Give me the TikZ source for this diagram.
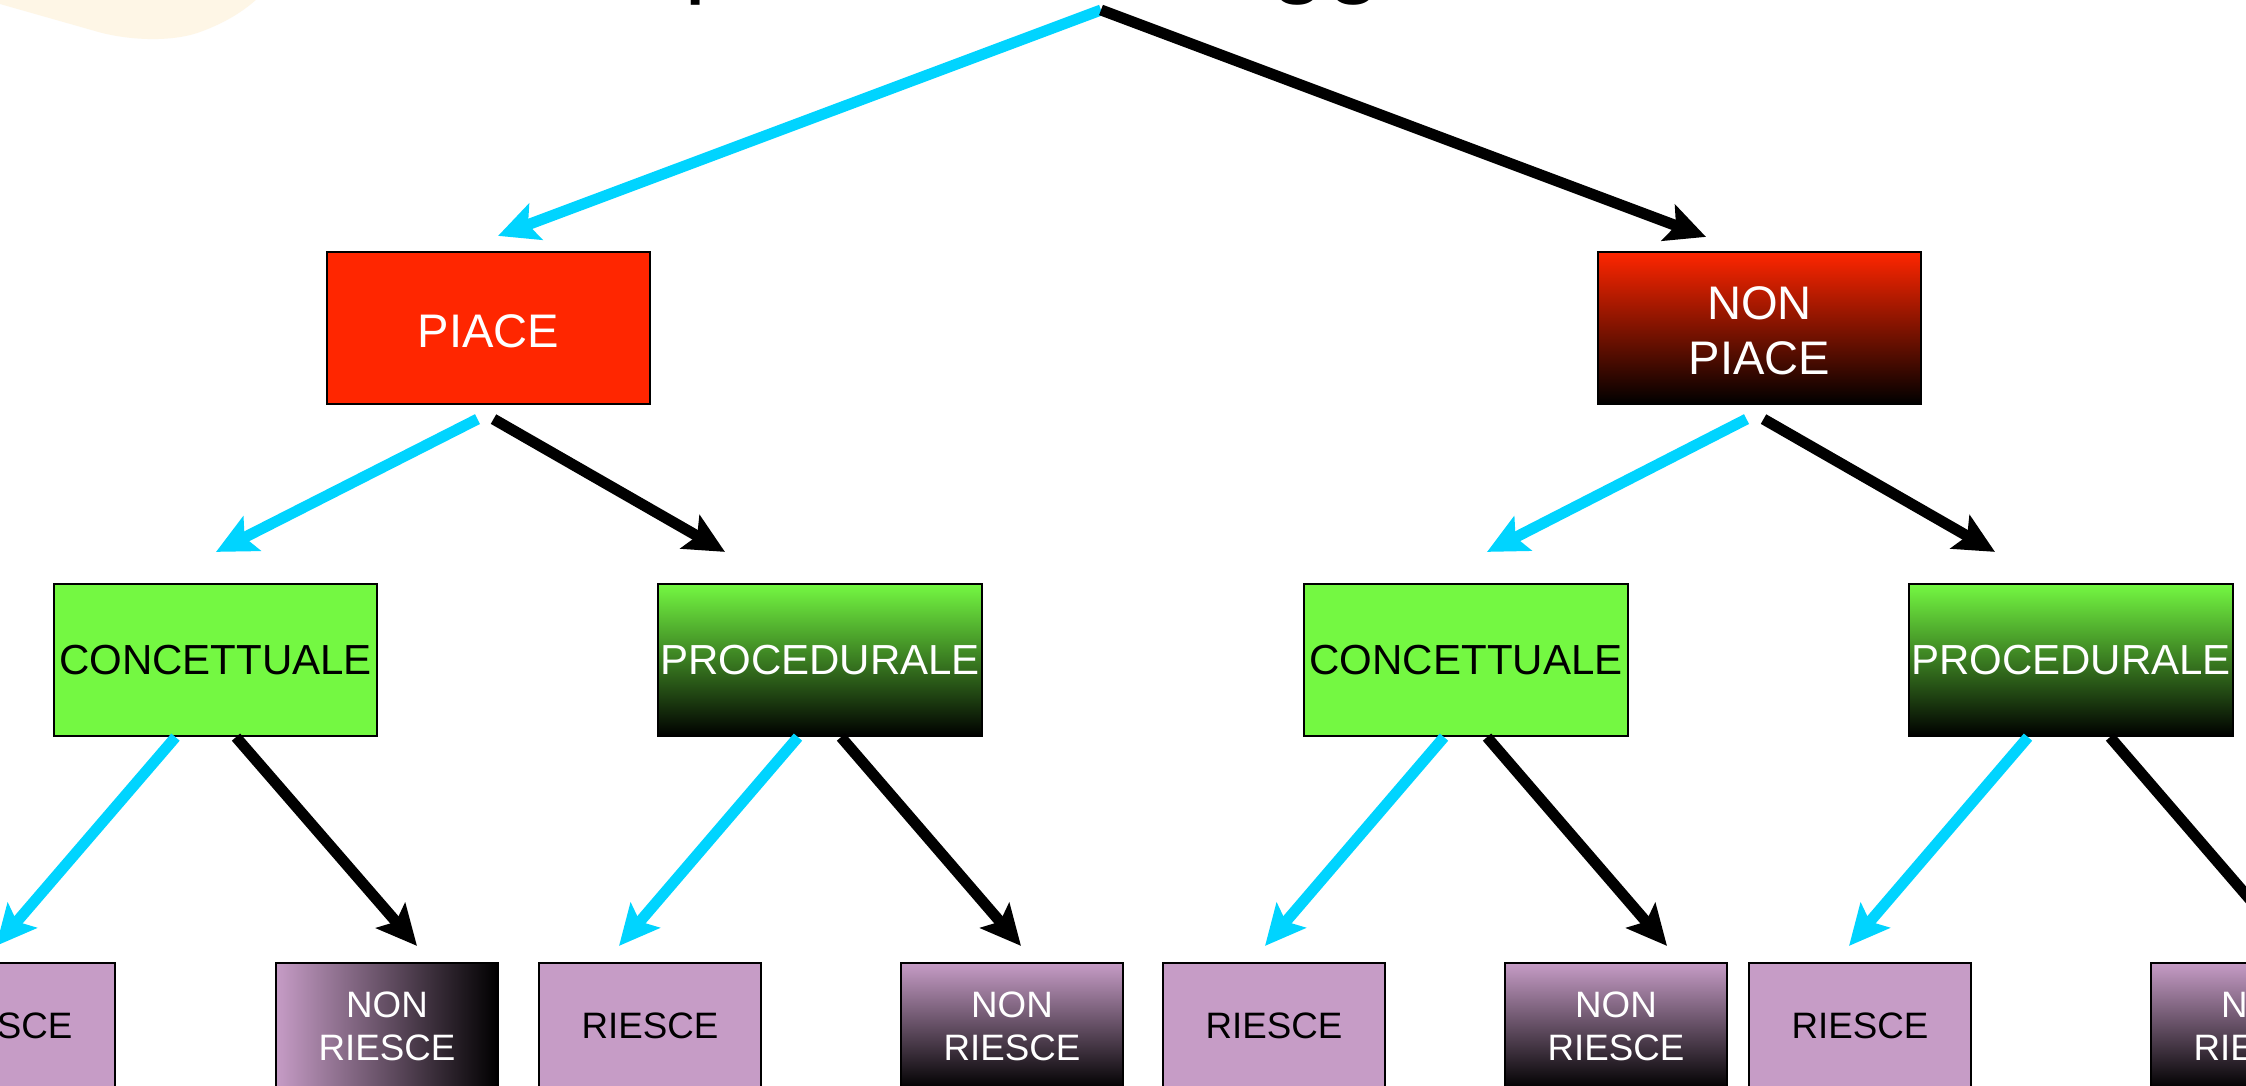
\documentclass[tikz,border=0pt]{standalone}
\usepackage{fontspec}
\setmainfont{Liberation Sans}
\usetikzlibrary{arrows.meta,calc}

\definecolor{arrowblue}{RGB}{0,212,255}
\definecolor{likered}{RGB}{255,38,0}
\definecolor{conceptgreen}{RGB}{116,248,66}
\definecolor{succpurple}{RGB}{198,156,198}
\definecolor{creamblob}{RGB}{254,246,230}

\newcommand{\lowered}[1]{\raisebox{-0.03cm}[\height][\depth]{#1}}

\tikzset{
  boxbase/.style={draw=black, line width=0.6pt, inner sep=0pt, align=center},
  topbox/.style={boxbase, minimum width=3.23cm, minimum height=1.52cm,
    font=\fontsize{13.4pt}{15.7pt}\selectfont},
  midbox/.style={boxbase, minimum width=3.23cm, minimum height=1.52cm,
    font=\fontsize{11.95pt}{14pt}\selectfont},
  lowbox/.style={boxbase, minimum width=2.22cm, minimum height=1.26cm,
    font=\fontsize{10.45pt}{12.2pt}\selectfont},
  likebox/.style={topbox, fill=likered, text=white},
  dislikebox/.style={topbox, top color=likered, bottom color=black, text=white},
  conceptbox/.style={midbox, fill=conceptgreen, text=black},
  procbox/.style={midbox, top color=conceptgreen, bottom color=black, text=white},
  yesbox/.style={lowbox, fill=succpurple, text=black},
  nobox/.style={lowbox, top color=succpurple, bottom color=black, text=white},
  nohbox/.style={lowbox, left color=succpurple, right color=black, text=white},
  tip/.style={-{Stealth[length=0.4cm,width=0.38cm,inset=0.08cm]}},
  bluelink/.style={tip, draw=arrowblue, line width=0.11cm},
  blacklink/.style={tip, draw=black, line width=0.11cm},
}

\begin{document}
\begin{tikzpicture}[x=0.01cm,y=-0.01cm]
  \useasboundingbox (0,0) rectangle (2246,1085);
  \clip (0,0) rectangle (2246,1085);
  \fill[white] (0,0) rectangle (2246,1085);

  % decorative shape in the upper left corner
  \fill[creamblob] (0,-2) -- (0,4) -- (95,31)
    .. controls (125,40) and (170,43) .. (200,32)
    .. controls (225,23) and (244,11) .. (258,-2) -- cycle;

  % descenders of the heading above
  \node[anchor=base west, inner sep=0pt, font=\fontsize{28.5pt}{30pt}\selectfont] (headp) at (684,-15) {p};
  \node[anchor=base west, inner sep=0pt, font=\fontsize{28.5pt}{30pt}\selectfont] (headg) at (1270,-15) {gg};

  \coordinate (root) at (1101,10);

  % first level
  \node[likebox] (piace) at (488.5,328) {\lowered{PIACE}};
  \node[dislikebox] (nonpiace) at (1759.5,328) {\lowered{NON}\\\lowered{PIACE}};

  % second level
  \node[conceptbox] (conc1) at (215.5,660) {CONCETTUALE};
  \node[procbox] (proc1) at (820,660) {PROCEDURALE};
  \node[conceptbox] (conc2) at (1466,660) {CONCETTUALE};
  \node[procbox] (proc2) at (2071,660) {PROCEDURALE};

  % third level
  \node[yesbox] (r1) at (4,1026) {RIESCE};
  \node[nohbox] (nr1) at (387,1026) {NON\\RIESCE};
  \node[yesbox] (r2) at (650,1026) {RIESCE};
  \node[nobox] (nr2) at (1012,1026) {NON\\RIESCE};
  \node[yesbox] (r3) at (1274,1026) {RIESCE};
  \node[nobox] (nr3) at (1616,1026) {NON\\RIESCE};
  \node[yesbox] (r4) at (1860,1026) {RIESCE};
  \node[nobox] (nr4) at (2262,1026) {NON\\RIESCE};

  % connectors
  \draw[bluelink] (root) -- ($(piace.north)+(9.5,-15)$);
  \draw[blacklink] (root) -- ($(nonpiace.north)+(-53.5,-14)$);

  \draw[bluelink] ($(piace.south)+(-11,14)$) -- ($(conc1.north)+(0.5,-31)$);
  \draw[blacklink] ($(piace.south)+(5,14)$) -- ($(proc1.north)+(-95,-31)$);
  \draw[bluelink] ($(nonpiace.south)+(-13,14)$) -- ($(conc2.north)+(21,-31)$);
  \draw[blacklink] ($(nonpiace.south)+(4,14)$) -- ($(proc2.north)+(-76,-31)$);

  \draw[bluelink] ($(conc1.south)+(-40,0)$) -- ($(r1.north)+(-8,-16)$);
  \draw[blacklink] ($(conc1.south)+(20.5,0)$) -- ($(nr1.north)+(30,-16)$);
  \draw[bluelink] ($(proc1.south)+(-22,0)$) -- ($(r2.north)+(-31,-16)$);
  \draw[blacklink] ($(proc1.south)+(21,0)$) -- ($(nr2.north)+(9,-16)$);
  \draw[bluelink] ($(conc2.south)+(-22,0)$) -- ($(r3.north)+(-9,-16)$);
  \draw[blacklink] ($(conc2.south)+(21,0)$) -- ($(nr3.north)+(51,-16)$);
  \draw[bluelink] ($(proc2.south)+(-43,0)$) -- ($(r4.north)+(-11,-16)$);
  \draw[blacklink] ($(proc2.south)+(39,0)$) -- ($(nr4.north)+(28,-16)$);
\end{tikzpicture}
\end{document}
